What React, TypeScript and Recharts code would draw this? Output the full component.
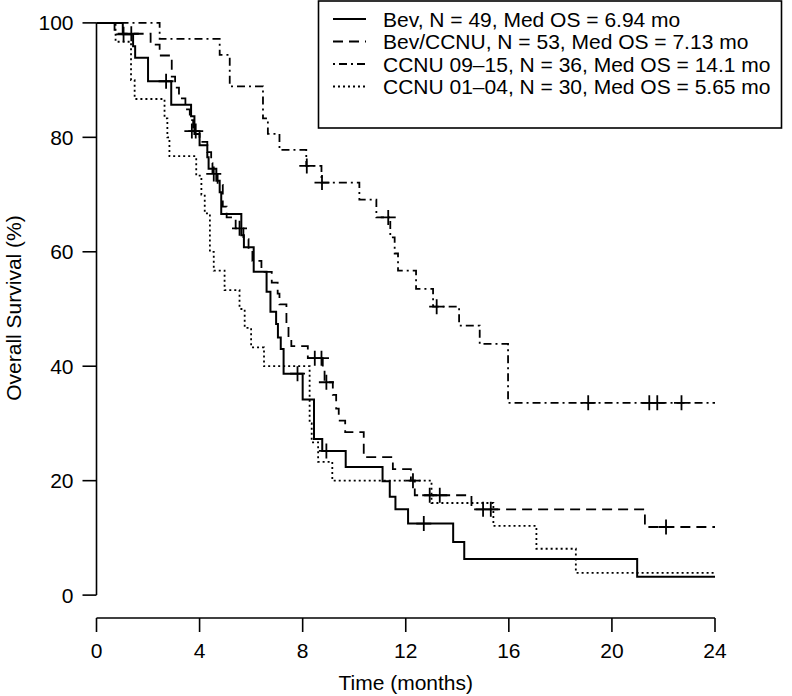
import React from 'react';
import { ComposedChart, Line, Scatter, XAxis, YAxis, ReferenceLine, Label } from 'recharts';

const FONT = '"Liberation Sans", Arial, Helvetica, sans-serif';

// ---- Bev (solid) ----
const bevTime = [0, 1.02, 1.42, 1.5, 2.0, 2.9, 3.67, 3.8, 4.0, 4.3, 4.35, 4.65, 4.78, 4.84, 5.62, 5.72, 6.1, 6.6, 6.75, 6.97, 7.04, 7.15, 7.26, 8.0, 8.44, 8.76, 9.67, 11.1, 11.38, 11.6, 12.09, 13.84, 14.27, 20.98, 24];
const bevSurv = [100, 98.0, 95.9, 93.9, 89.8, 85.7, 83.7, 80.6, 78.6, 76.5, 74.5, 72.4, 70.4, 66.6, 62.9, 60.8, 56.5, 53.0, 49.5, 47.4, 45.0, 43.0, 38.7, 34.2, 27.3, 25.2, 22.4, 19.9, 17.2, 15.0, 12.5, 9.3, 6.3, 3.2, 3.2];
const bevCensorTime = [1.05, 2.7, 7.8, 8.92, 12.7];
const bevCensorSurv = [98.0, 89.8, 38.7, 25.2, 12.5];

// ---- Bev/CCNU (dashed) ----
const bcTime = [0, 0.7, 2.1, 2.45, 2.92, 3.05, 3.2, 3.45, 3.62, 3.75, 4.0, 4.3, 4.45, 4.5, 4.7, 4.9, 5.05, 5.4, 5.7, 5.9, 6.05, 6.4, 6.8, 7.03, 7.1, 7.37, 7.45, 7.56, 8.2, 8.78, 8.85, 9.17, 9.3, 9.4, 9.65, 10.37, 11.5, 12.2, 12.35, 14.55, 21.28, 24];
const bcSurv = [100, 98.1, 96.2, 94.3, 90.6, 88.7, 86.8, 84.9, 83.0, 81.1, 79.2, 77.4, 75.5, 73.6, 71.7, 67.9, 66.0, 64.1, 62.2, 60.3, 58.4, 56.5, 54.6, 52.7, 50.8, 47.0, 45.1, 43.5, 41.4, 39.3, 37.2, 35.0, 32.6, 30.5, 28.5, 24.1, 22.0, 20.0, 17.45, 15.0, 11.9, 11.9];
const bcCensorTime = [1.35, 3.7, 3.85, 4.55, 5.55, 8.47, 8.73, 8.92, 12.28, 12.93, 13.32, 15.0, 15.3, 22.1];
const bcCensorSurv = [98.1, 81.1, 81.1, 73.6, 64.1, 41.4, 41.4, 37.2, 20.0, 17.45, 17.45, 15.0, 15.0, 11.9];

// ---- CCNU 09–15 (dash-dot) ----
const c09Time = [0, 2.45, 4.78, 5.17, 6.46, 6.65, 7.1, 8.14, 8.73, 10.2, 10.86, 11.4, 11.57, 11.7, 12.4, 13.06, 14.07, 14.87, 15.97, 24];
const c09Surv = [100, 97.2, 94.4, 88.9, 83.3, 80.6, 77.8, 75.0, 72.1, 69.1, 66.0, 62.5, 59.7, 56.7, 53.5, 50.4, 47.1, 43.9, 33.6, 33.6];
const c09CensorTime = [8.16, 8.75, 11.32, 13.2, 19.08, 21.45, 21.76, 22.7];
const c09CensorSurv = [75.0, 72.1, 66.0, 50.4, 33.6, 33.6, 33.6, 33.6];

// ---- CCNU 01–04 (dotted) ----
const c01Time = [0, 0.74, 1.34, 1.48, 2.64, 2.75, 2.83, 3.87, 4.07, 4.2, 4.4, 4.55, 4.97, 5.55, 5.75, 6.0, 6.5, 8.27, 8.35, 8.6, 9.15, 13.0, 15.4, 17.07, 18.6, 24];
const c01Surv = [100, 96.7, 90.0, 86.7, 83.3, 80.0, 76.7, 73.3, 70.0, 66.7, 60.0, 56.7, 53.3, 50.0, 46.7, 43.3, 40.0, 30.0, 26.7, 23.3, 20.0, 16.1, 12.1, 8.1, 3.9, 3.9];

const xTicks = [0, 4, 8, 12, 16, 20, 24];
const yTicks = [0, 20, 40, 60, 80, 100];

const legendLabels = [
  'Bev, N = 49, Med OS = 6.94 mo',
  'Bev/CCNU, N = 53, Med OS = 7.13 mo',
  'CCNU 09\u201315, N = 36, Med OS = 14.1 mo',
  'CCNU 01\u201304, N = 30, Med OS = 5.65 mo',
];
const dashes = ['none', '10 6', '2 4 8 4', '2 3'];
const widths = [2, 1.8, 1.8, 1.8];

const pts = (t: number[], s: number[]) => t.map((v, i) => ({ t: v, s: s[i] }));

const bevData = pts(bevTime, bevSurv);
const bcData = pts(bcTime, bcSurv);
const c09Data = pts(c09Time, c09Surv);
const c01Data = pts(c01Time, c01Surv);
const bevCens = pts(bevCensorTime, bevCensorSurv);
const bcCens = pts(bcCensorTime, bcCensorSurv);
const c09Cens = pts(c09CensorTime, c09CensorSurv);

const Plus = (props: any) => {
  const { cx, cy } = props;
  if (cx == null || cy == null) return null;
  const r = 7.5;
  return (
    <path
      d={`M${cx - r},${cy}H${cx + r}M${cx},${cy - r}V${cy + r}`}
      stroke="#000"
      strokeWidth={1.8}
      fill="none"
    />
  );
};

const YTitle = (props: any) => {
  const vb = props.viewBox || { x: 0 };
  const cx = (vb.x || 0) + 21;
  const cy = 308;
  return (
    <text x={cx} y={cy} transform={`rotate(-90 ${cx} ${cy})`} textAnchor="middle" fontSize={21} fontFamily={FONT} fill="#000">
      Overall Survival (%)
    </text>
  );
};

const XTitle = (props: any) => {
  const vb = props.viewBox || { x: 96.5, y: 618, width: 618, height: 78 };
  return (
    <text x={vb.x + vb.width / 2} y={vb.y + 72} textAnchor="middle" fontSize={21} fontFamily={FONT} fill="#000">
      Time (months)
    </text>
  );
};

const rowY = [19, 41.5, 64, 86.5];

export default function App() {
  return (
    <div style={{ position: 'absolute', left: 0, top: 0, width: 792, height: 696, background: '#fff' }}>
      <ComposedChart width={792} height={696} margin={{ top: 0, right: 77, bottom: 0, left: 0 }}>
        <XAxis
          type="number"
          dataKey="t"
          domain={[0, 24]}
          ticks={xTicks}
          allowDataOverflow
          height={78}
          tickSize={14}
          tickMargin={11}
          stroke="#000"
          axisLine={{ stroke: '#000', strokeWidth: 1.6 }}
          tickLine={{ stroke: '#000', strokeWidth: 1.6 }}
          tick={{ fill: '#000', fontSize: 21, fontFamily: FONT }}
          interval={0}
        >
          <Label content={XTitle} />
        </XAxis>
        <YAxis
          type="number"
          dataKey="s"
          domain={[-4, 104]}
          ticks={yTicks}
          allowDataOverflow
          width={96.5}
          tickSize={14}
          tickMargin={9}
          axisLine={false}
          tickLine={{ stroke: '#000', strokeWidth: 1.6 }}
          tick={{ fill: '#000', fontSize: 21, fontFamily: FONT }}
          interval={0}
        >
          <Label content={YTitle} />
        </YAxis>
        <ReferenceLine segment={[{ x: 0, y: 0 }, { x: 0, y: 100 }]} stroke="#000" strokeWidth={1.6} ifOverflow="visible" />
        <Line data={c01Data} dataKey="s" type="stepAfter" dot={false} activeDot={false} stroke="#000" strokeWidth={widths[3]} strokeDasharray={dashes[3]} isAnimationActive={false} />
        <Line data={c09Data} dataKey="s" type="stepAfter" dot={false} activeDot={false} stroke="#000" strokeWidth={widths[2]} strokeDasharray={dashes[2]} isAnimationActive={false} />
        <Line data={bcData} dataKey="s" type="stepAfter" dot={false} activeDot={false} stroke="#000" strokeWidth={widths[1]} strokeDasharray={dashes[1]} isAnimationActive={false} />
        <Line data={bevData} dataKey="s" type="stepAfter" dot={false} activeDot={false} stroke="#000" strokeWidth={widths[0]} isAnimationActive={false} />
        <Scatter data={bevCens} dataKey="s" shape={Plus} isAnimationActive={false} />
        <Scatter data={bcCens} dataKey="s" shape={Plus} isAnimationActive={false} />
        <Scatter data={c09Cens} dataKey="s" shape={Plus} isAnimationActive={false} />
      </ComposedChart>
      <svg width={792} height={696} style={{ position: 'absolute', left: 0, top: 0, pointerEvents: 'none' }}>
        <rect x={318.5} y={1} width={463} height={127} fill="#fff" stroke="#000" strokeWidth={1.6} />
        {legendLabels.map((lab, i) => (
          <g key={lab}>
            <line x1={333} x2={366} y1={rowY[i]} y2={rowY[i]} stroke="#000" strokeWidth={widths[i]} strokeDasharray={dashes[i]} />
            <text x={383} y={rowY[i] + 7.5} fontSize={21} fontFamily={FONT} fill="#000">
              {lab}
            </text>
          </g>
        ))}
      </svg>
    </div>
  );
}
